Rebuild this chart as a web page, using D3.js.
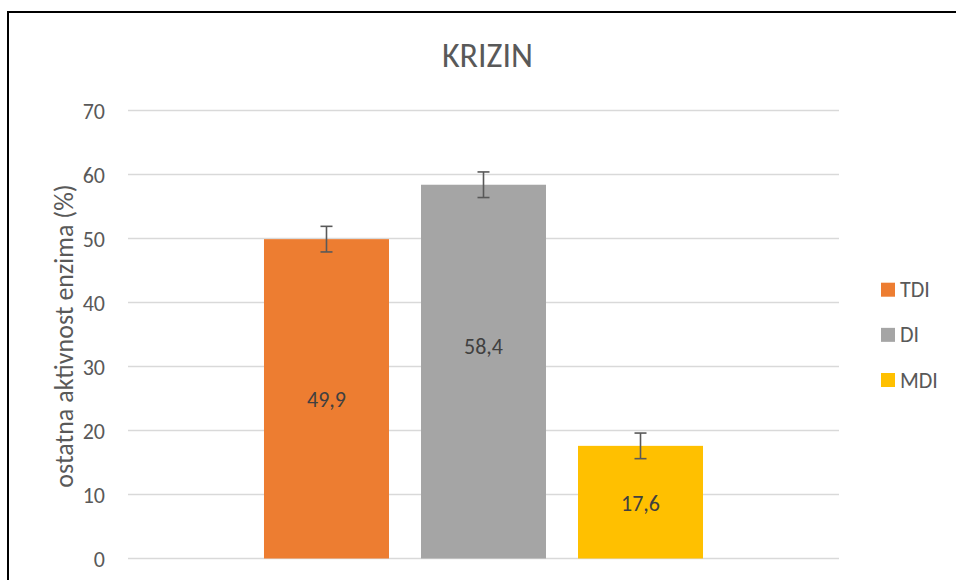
<!DOCTYPE html>
<html>
<head>
<meta charset="utf-8">
<script src="https://cdn.jsdelivr.net/npm/d3@7"></script>
<style>
  html, body { margin: 0; padding: 0; background: #fff; }
  svg { display: block; }
  text { font-family: Calibri, Carlito, "Open Sans", sans-serif; }
</style>
</head>
<body>
<svg id="chart" width="956" height="580"></svg>
<script>
const title = "KRIZIN";
const yAxisTitle = "ostatna aktivnost enzima (%)";
const series = ["TDI", "DI", "MDI"];
const values = [49.9, 58.4, 17.6];
const errors = [2.0, 2.0, 2.0];
const valueLabels = ["49,9", "58,4", "17,6"];
const labelAt = [24.95, 33.1, 8.6];
const colors = ["#ED7D31", "#A5A5A5", "#FFC000"];
const yTicks = [0, 10, 20, 30, 40, 50, 60, 70];

const svg = d3.select("#chart");

// chart border
svg.append("rect")
  .attr("x", 8).attr("y", 12)
  .attr("width", 1100).attr("height", 800)
  .attr("fill", "none").attr("stroke", "#000").attr("stroke-width", 2);

const plot = { left: 128, right: 839, top: 110.5, bottom: 558.5 };

const y = d3.scaleLinear().domain([0, 70]).range([plot.bottom, plot.top]);
const xOuter = d3.scaleBand().domain(["g"]).range([plot.left, plot.right]).padding(0.2365);
const x = d3.scaleBand().domain(series)
  .range([xOuter("g"), xOuter("g") + xOuter.bandwidth()])
  .paddingInner(0.2038).paddingOuter(0);

// gridlines
svg.append("g").selectAll("line").data(yTicks).join("line")
  .attr("x1", plot.left).attr("x2", plot.right)
  .attr("y1", d => y(d)).attr("y2", d => y(d))
  .attr("stroke", "#D9D9D9").attr("stroke-width", 1.3);

// y tick labels
const yAxis = d3.axisLeft(y).tickValues(yTicks).tickSize(0).tickPadding(0).tickFormat(d3.format("d"));
const gy = svg.append("g").attr("transform", `translate(${105},0)`).call(yAxis);
gy.select(".domain").remove();
gy.selectAll("text")
  .attr("fill", "#595959")
  .style("font-size", "22px")
  .style("font-family", "Calibri, Carlito, 'Open Sans', sans-serif")
  .attr("dy", "0.35em");

// bars
svg.append("g").selectAll("rect").data(series).join("rect")
  .attr("x", d => x(d))
  .attr("width", x.bandwidth())
  .attr("y", (d, i) => y(values[i]))
  .attr("height", (d, i) => y(0) - y(values[i]))
  .attr("fill", (d, i) => colors[i]);

// error bars
const eb = svg.append("g").attr("stroke", "#595959").attr("stroke-width", 1.6);
series.forEach((s, i) => {
  const cx = x(s) + x.bandwidth() / 2;
  const y1 = y(values[i] + errors[i]);
  const y2 = y(values[i] - errors[i]);
  eb.append("line").attr("x1", cx).attr("x2", cx).attr("y1", y1).attr("y2", y2);
  eb.append("line").attr("x1", cx - 6).attr("x2", cx + 6).attr("y1", y1).attr("y2", y1);
  eb.append("line").attr("x1", cx - 6).attr("x2", cx + 6).attr("y1", y2).attr("y2", y2);
});

// value labels
svg.append("g").selectAll("text").data(series).join("text")
  .attr("x", d => x(d) + x.bandwidth() / 2)
  .attr("y", (d, i) => y(labelAt[i]))
  .attr("dy", "0.35em")
  .attr("text-anchor", "middle")
  .attr("fill", "#404040")
  .style("font-size", "22px")
  .text((d, i) => valueLabels[i]);

// title
svg.append("text")
  .attr("x", 487.5).attr("y", 67)
  .attr("text-anchor", "middle")
  .attr("fill", "#595959")
  .style("font-size", "34px")
  .text(title);

// y axis title
svg.append("text")
  .attr("transform", `translate(73,${336}) rotate(-90)`)
  .attr("text-anchor", "middle")
  .attr("fill", "#595959")
  .style("font-size", "26px")
  .text(yAxisTitle);

// legend
const legendY = d3.scalePoint().domain(series).range([289.7, 380]);
const lg = svg.append("g");
series.forEach((s, i) => {
  lg.append("rect")
    .attr("x", 881).attr("y", legendY(s) - 7)
    .attr("width", 14).attr("height", 14)
    .attr("fill", colors[i]);
  lg.append("text")
    .attr("x", 900).attr("y", legendY(s) + 7.5)
    .attr("fill", "#595959")
    .style("font-size", "22px")
    .text(s);
});
</script>
</body>
</html>
